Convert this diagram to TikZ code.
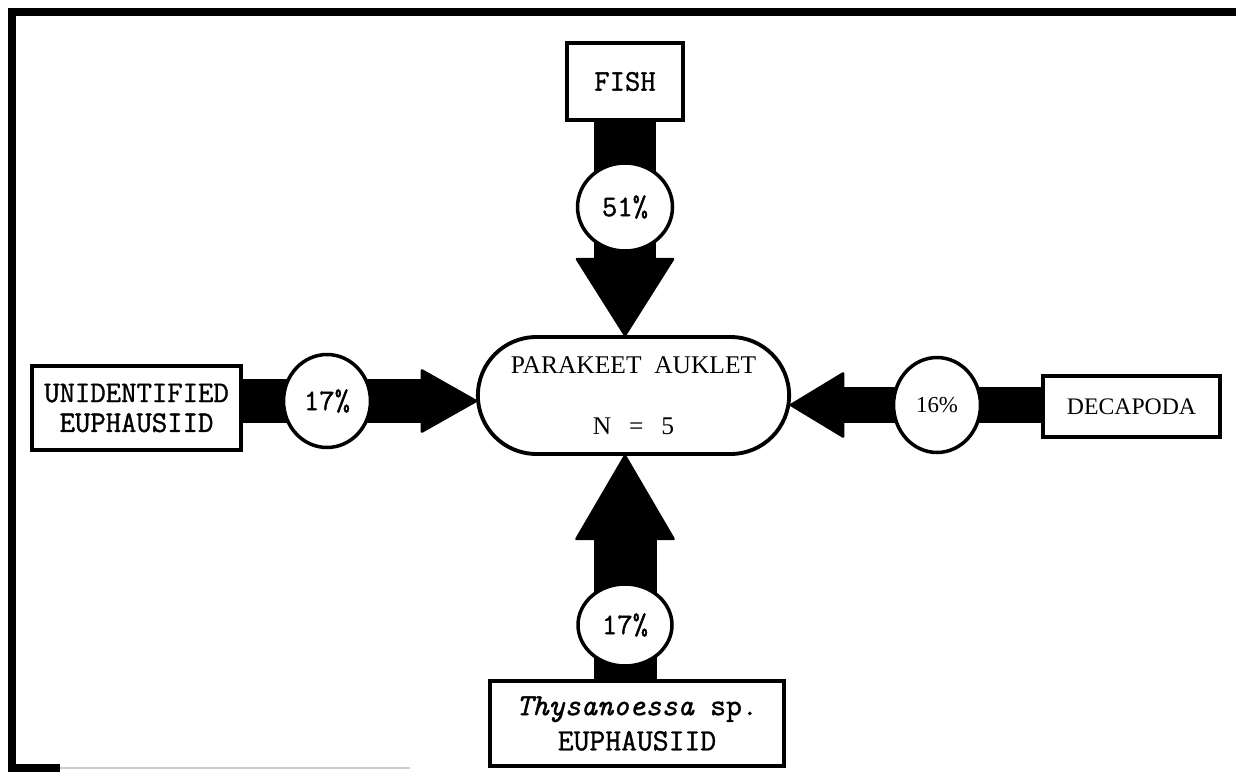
\documentclass[tikz,border=0pt]{standalone}
\usepackage{fontspec}
\setmainfont{Liberation Serif}
\newfontfamily\tw[FakeBold=1.2]{Latin Modern Mono}
\usetikzlibrary{shapes.misc,shapes.geometric,calc,backgrounds}
\begin{document}
\begin{tikzpicture}[x=0.02cm,y=-0.02cm,
  prey/.style={draw,line width=2.2pt,fill=white,inner sep=0pt,align=center},
  share/.style={draw,ellipse,line width=2pt,fill=white,inner sep=0pt},
  twtext/.style={font=\tw\fontsize{17}{17}\selectfont},
  head/.style={fill=black,draw=black,line width=1.5pt,line join=round}
]
\useasboundingbox (0,0) rectangle (1236,773);

% prey boxes
\node[prey,minimum width=2.32cm,minimum height=1.54cm,twtext] (fish) at (625,81.5) {FISH};
\node[prey,minimum width=4.18cm,minimum height=1.68cm,twtext] (unid) at (136.5,408) {UNIDENTIFIED\\EUPHAUSIID};
\node[prey,minimum width=3.54cm,minimum height=1.22cm,font=\fontsize{13.5}{14}\selectfont] (deca) at (1131.5,406.5) {DECAPODA};
\node[prey,minimum width=5.88cm,minimum height=1.7cm,font=\tw\fontsize{17.5}{20}\selectfont] (thys) at (637,723.5) {\textit{Thysanoessa} sp.\\EUPHAUSIID};

% predator
\node[draw,rounded rectangle,line width=2.2pt,fill=white,minimum width=6.46cm,minimum height=2.34cm,
      align=center,font=\fontsize{14.5}{35}\selectfont] (auk) at (633.5,395.5)
      {PARAKEET\ \ AUKLET\\N\hspace{0.7em}=\hspace{0.7em}5};

% diet shares
\node[share,minimum width=1.9cm,minimum height=1.76cm,twtext] (pf) at (625,207) {51\%};
\node[share,minimum width=1.74cm,minimum height=1.86cm,twtext] (pu) at (327,401) {17\%};
\node[share,minimum width=1.74cm,minimum height=1.9cm,font=\fontsize{13}{13}\selectfont] (pd) at (937,405) {16\%};
\node[share,minimum width=1.88cm,minimum height=1.64cm,twtext] (pt) at (625,625) {17\%};

\begin{scope}[on background layer]
  % frame
  \draw[line width=0.16cm] (1236,12) -- (12,12) -- (12,768) -- (60,768);
  \draw[gray!40,line width=0.03cm] (60,768) -- (410,768);
  % fish
  \draw[line width=1.24cm] (fish.south -| pf) -- ($(pf |- auk.north)+(0,-76)$);
  \filldraw[head] (pf |- auk.north) -- ++(-48,-76) -- ++(96,0) -- cycle;
  % unidentified euphausiid
  \draw[line width=0.88cm] (unid.east |- pu) -- ($(pu -| auk.west)+(-54,0)$);
  \filldraw[head] (pu -| auk.west) -- ++(-54,-30.5) -- ++(0,61) -- cycle;
  % decapoda
  \draw[line width=0.74cm] (deca.west |- pd) -- ($(pd -| auk.east)+(52,0)$);
  \filldraw[head] (pd -| auk.east) -- ++(52,-31.5) -- ++(0,63) -- cycle;
  % thysanoessa
  \draw[line width=1.26cm] (thys.north -| pt) -- ($(pt |- auk.south)+(0,83)$);
  \filldraw[head] (pt |- auk.south) -- ++(-48.5,83) -- ++(97,0) -- cycle;
\end{scope}
\end{tikzpicture}
\end{document}
